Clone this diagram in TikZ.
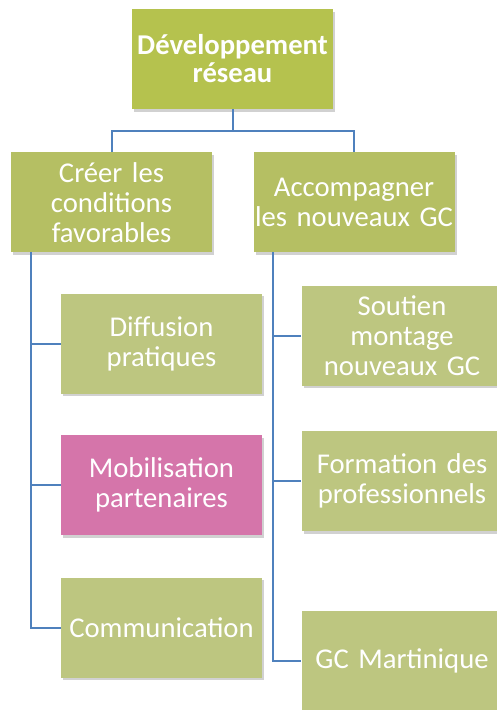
\documentclass[tikz,border=0pt]{standalone}
\usepackage{fontspec}
\setmainfont{Carlito}
\usetikzlibrary{positioning, shadows}

\definecolor{topgreen}{RGB}{181,194,78}
\definecolor{midgreen}{RGB}{181,191,99}
\definecolor{leafgreen}{RGB}{189,198,128}
\definecolor{leafpink}{RGB}{213,117,170}
\definecolor{linkblue}{RGB}{79,129,189}

\begin{document}
\begin{tikzpicture}[x=0.75pt, y=-0.75pt, node distance=31pt,
  box/.style={rectangle, minimum width=150.75pt, minimum height=75pt, text width=150pt, inner sep=0pt,
    align=center, text=white, font=\fontsize{21.5}{22.5}\selectfont,
    drop shadow={shadow xshift=1.5pt, shadow yshift=-2pt, opacity=0.3, fill=black!60}},
  link/.style={draw=linkblue, line width=1.5pt}]
  \useasboundingbox (0,0) rectangle (496,710);

  % Racine
  \node[box, fill=topgreen, font=\bfseries\fontsize{21.5}{21}\selectfont] (dev) at (232.5,59) {Développement\\réseau};

  % Deux axes
  \node[box, fill=midgreen, below=32pt of dev, xshift=-90.75pt] (creer) {Créer les\\conditions\\favorables};
  \node[box, fill=midgreen, right=30.75pt of creer] (accomp) {Accompagner\\les nouveaux GC};

  % Actions de gauche
  \node[box, fill=leafgreen, below=30.75pt of creer, xshift=37.5pt] (diffusion) {Diffusion\\pratiques};
  \node[box, fill=leafpink, below=30.75pt of diffusion] (mobil) {Mobilisation\\partenaires};
  \node[box, fill=leafgreen, below=31.5pt of mobil] (comm) {Communication};

  % Actions de droite
  \node[box, fill=leafgreen, below=24.75pt of accomp, xshift=36pt] (soutien) {Soutien\\montage\\nouveaux GC};
  \node[box, fill=leafgreen, below=33.75pt of soutien] (formation) {Formation des\\professionnels};
  \node[box, fill=leafgreen, below=59.25pt of formation] (martinique) {GC Martinique};

  % Liens
  \draw[link] (dev.south) -- ++(0,22) -| (creer.north);
  \draw[link] (dev.south) -- ++(0,22) -| (accomp.north);
  \foreach \n in {diffusion, mobil, comm}
    \draw[link] ([xshift=15pt]creer.south west) |- (\n.west);
  \foreach \n in {soutien, formation, martinique}
    \draw[link] ([xshift=15pt]accomp.south west) |- (\n.west);
\end{tikzpicture}
\end{document}
